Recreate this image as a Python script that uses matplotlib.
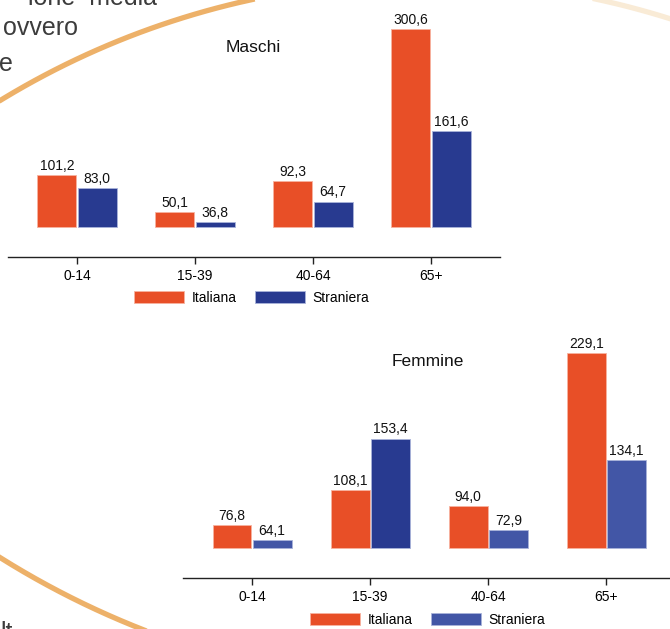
import matplotlib
matplotlib.use("Agg")
import matplotlib.pyplot as plt
import numpy as np

# data
age_groups = ["0-14", "15-39", "40-64", "65+"]
maschi_italiana = [101.2, 50.1, 92.3, 300.6]
maschi_straniera = [83.0, 36.8, 64.7, 161.6]
femmine_italiana = [76.8, 108.1, 94.0, 229.1]
femmine_straniera = [64.1, 153.4, 72.9, 134.1]

# style
W, H = 670, 629
ORANGE = "#E84F27"
DARK_BLUE = "#283A90"
LIGHT_BLUE = "#4256A6"
ARC = "#EDB169"
TEXT_GREY = "#3C3C3C"
NARROW = ["Liberation Sans Narrow", "Liberation Sans", "DejaVu Sans"]

plt.rcParams["font.family"] = ["Liberation Sans", "DejaVu Sans"]


def box(l, t, r, b):
    return [l / W, 1 - b / H, (r - l) / W, (b - t) / H]


fig = plt.figure(figsize=(W / 100, H / 100), dpi=100)

# decorative background (slide arcs + cut text)
bg = fig.add_axes([0, 0, 1, 1], zorder=0)
bg.set_xlim(0, W)
bg.set_ylim(H, 0)
bg.axis("off")
t = np.linspace(np.pi * 1.05, np.pi * 1.95, 400)
cx, cy, r = 425, 796, 815
xs, ys = cx + r * np.cos(t), cy + r * np.sin(t)
left = xs < 300
bg.plot(xs[left], ys[left], color=ARC, lw=3.8, solid_capstyle="butt")
bg.plot(xs[~left], ys[~left], color="#F8E6CC", lw=3.8, alpha=0.8)
t2 = np.linspace(np.pi * 0.5, np.pi * 0.75, 300)
cx2, cy2, r2 = 457, -171, 860
bg.plot(cx2 + r2 * np.cos(t2), cy2 + r2 * np.sin(t2), color=ARC, lw=3.8)

for txt, xr, yb in (("ione  media", 157, 5), ("ovvero", 78, 35), ("e", 13, 71)):
    fig.text(xr / W, 1 - yb / H, txt, ha="right", va="baseline",
             fontsize=18, color=TEXT_GREY, family=NARROW)
fig.text(0 / W, 1 - 621 / H, "lt", ha="left", va="top",
         fontsize=18, color=TEXT_GREY, family=NARROW)


def draw_panel(rect, ylim, base, ital, stran, stran_colors, title, title_xy, legend_xy):
    ax = fig.add_axes(box(*rect), zorder=2)
    ax.patch.set_alpha(0)
    x = np.arange(len(age_groups))
    w = 0.33
    ital = np.array(ital)
    stran = np.array(stran)
    b1 = ax.bar(x - w / 2 - 0.005, ital - base, w, bottom=base, color=ORANGE,
                edgecolor="#F7B3A0", linewidth=0.6, label="Italiana")
    b2 = ax.bar(x + w / 2 + 0.005, stran - base, w, bottom=base, color=stran_colors,
                edgecolor="#A9B3DA", linewidth=0.6, label="Straniera")
    for bars, vals in ((b1, ital), (b2, stran)):
        for rect_, v in zip(bars, vals):
            ax.annotate(f"{v:.1f}".replace(".", ","),
                        (rect_.get_x() + rect_.get_width() / 2, v),
                        xytext=(0, 1.5), textcoords="offset points",
                        ha="center", va="bottom", fontsize=10, color="#111111")
    ax.set_xlim(-0.585, x[-1] + 0.585)
    ax.set_ylim(*ylim)
    for s in ("left", "right", "top"):
        ax.spines[s].set_visible(False)
    ax.spines["bottom"].set_color("#222222")
    ax.spines["bottom"].set_linewidth(1.0)
    ax.set_yticks([])
    ax.set_xticks(x)
    ax.set_xticklabels(age_groups, fontsize=10)
    ax.tick_params(axis="x", direction="out", length=5, width=1, color="#222222", pad=3.5)
    fig.text(title_xy[0] / W, 1 - title_xy[1] / H, title, ha="center", va="center",
             fontsize=12.5, color="#111111")
    handles = [plt.Rectangle((0, 0), 1, 1, facecolor=ORANGE, edgecolor="#F7B3A0", lw=0.6),
               plt.Rectangle((0, 0), 1, 1, facecolor=stran_colors[0], edgecolor="#A9B3DA", lw=0.6)]
    fig.legend(handles, ["Italiana", "Straniera"], loc="center",
               bbox_to_anchor=(legend_xy[0] / W, 1 - legend_xy[1] / H), ncol=2,
               frameon=False, fontsize=10, handlelength=3.6, handleheight=0.95,
               handletextpad=0.55, columnspacing=1.3, borderaxespad=0, borderpad=0)
    return ax


draw_panel((8, 0, 500, 257), (-11, 340), 30, maschi_italiana, maschi_straniera,
           [DARK_BLUE] * 4, "Maschi", (253, 47), (252, 298))

ax2 = draw_panel((183, 330, 670, 578), (30.5, 249), 57, femmine_italiana, femmine_straniera,
                 [LIGHT_BLUE, DARK_BLUE, LIGHT_BLUE, LIGHT_BLUE], "Femmine", (428, 361), (428, 620))
ax2.set_xlim(-0.585, 3.54)

fig.savefig("out.png", dpi=100)
